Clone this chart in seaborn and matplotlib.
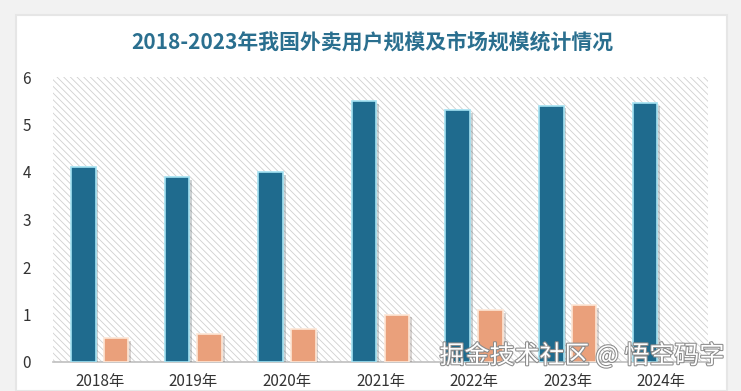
import pandas as pd
import matplotlib.pyplot as plt
import matplotlib.patheffects as pe
from matplotlib.patches import Rectangle
import seaborn as sns

# 数据
years = ['2018年', '2019年', '2020年', '2021年', '2022年', '2023年', '2024年']
users = [4.1, 3.9, 4.0, 5.5, 5.3, 5.4, 5.45]
market = [0.5, 0.6, 0.7, 1.0, 1.1, 1.2, None]

df = pd.DataFrame({
    'year': years * 2,
    'value': users + market,
    'series': ['用户规模'] * len(years) + ['市场规模'] * len(years),
})

sns.set_style('white')
plt.rcParams['font.family'] = ['Noto Sans CJK SC', 'DejaVu Sans']
plt.rcParams['hatch.linewidth'] = 0.6

fig = plt.figure(figsize=(7.41, 3.91), dpi=100, facecolor='#f2f2f2')
# 白色卡片
fig.patches.append(Rectangle((16 / 741, 0), (727 - 16) / 741, 1 - 15 / 391,
                             transform=fig.transFigure, facecolor='white',
                             edgecolor='#e6e6e6', lw=1.5, zorder=-1))

ax = fig.add_axes([53 / 741, 1 - 362 / 391, (708 - 53) / 741, (362 - 77) / 391])
ax.set_zorder(2)
ax.set_facecolor('white')
# 斜线背景
ax.add_patch(Rectangle((0, 0), 1, 1, transform=ax.transAxes, facecolor='white',
                       edgecolor='#cfcfcf', hatch='\\\\\\\\\\', lw=0, zorder=0))

sns.barplot(data=df, x='year', y='value', hue='series',
            palette=['#1f6b8e', '#eaa07b'], saturation=1, width=0.7, gap=0.25,
            legend=False, ax=ax, zorder=3)

for c, ec in zip(ax.containers, ['#a4e2f2', '#fde6d6']):
    for bar in c:
        bar.set_edgecolor(ec)
        bar.set_linewidth(1.2)
        bar.set_path_effects([pe.SimplePatchShadow(offset=(2, -2), alpha=0.2),
                              pe.Normal()])

ax.set_xlim(-0.5, 6.5)
ax.set_ylim(0, 6)
ax.set_yticks(range(0, 7))
ax.set_xlabel('')
ax.set_ylabel('')
for s in ['top', 'right', 'left']:
    ax.spines[s].set_visible(False)
ax.spines['bottom'].set_color('#bfbfbf')
ax.spines['bottom'].set_linewidth(1.2)
ax.tick_params(axis='both', length=0, labelsize=11, labelcolor='#333333')
ax.tick_params(axis='x', pad=8)
ax.tick_params(axis='y', pad=16)

fig.text(372 / 741, 1 - 42 / 391, '2018-2023年我国外卖用户规模及市场规模统计情况',
         ha='center', va='center', fontsize=15, fontweight='bold', color='#2a6f8f')

# 水印
fig.text(582 / 741, 1 - 356 / 391, '掘金技术社区 @ 悟空码字', ha='center', va='center',
         fontsize=18, color='white', zorder=5,
         path_effects=[pe.withStroke(linewidth=1.5, foreground='#8a8a8a')])

fig.savefig('out.png', dpi=100, facecolor=fig.get_facecolor())
